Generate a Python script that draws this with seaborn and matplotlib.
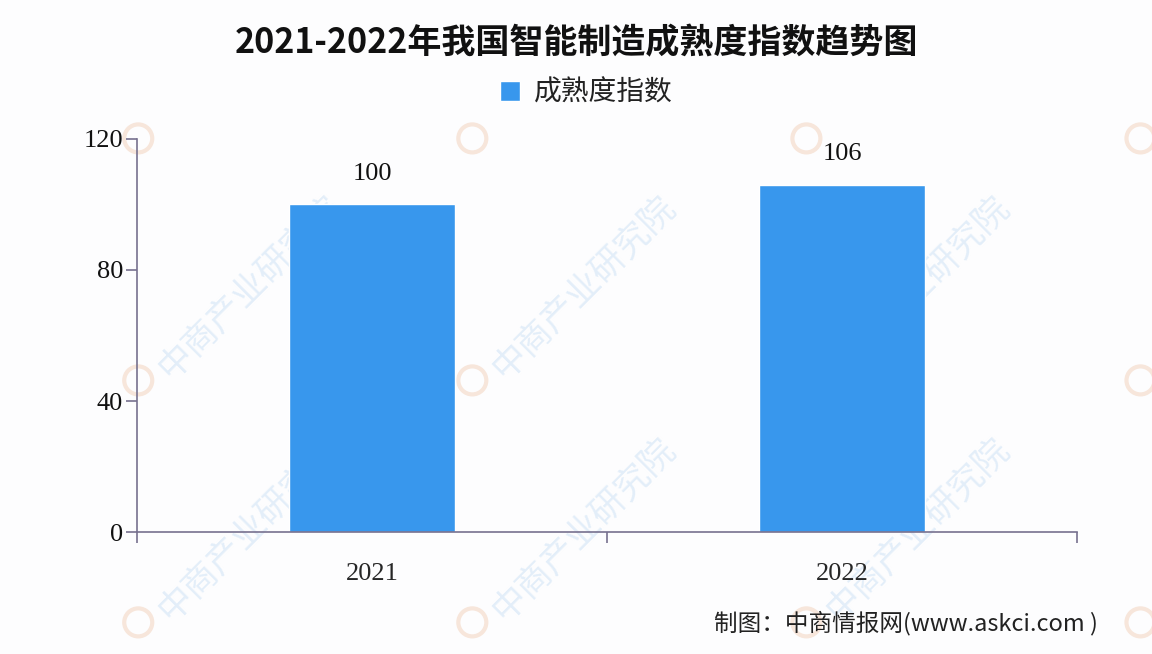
import matplotlib
matplotlib.use('Agg')

import pandas as pd
import matplotlib.pyplot as plt
import seaborn as sns

# === Data ===
years = ["2021", "2022"]
index_values = [100, 106]
series_name = "成熟度指数"
y_ticks = [0, 40, 80, 120]

df = pd.DataFrame({"year": years, "value": index_values})

sns.set_theme(style="white")
plt.rcParams['font.family'] = ['Noto Sans CJK SC', 'DejaVu Sans']

bar_color = '#3897ED'
axis_color = '#77718F'

fig = plt.figure(figsize=(11.52, 6.54), dpi=100)
fig.patch.set_facecolor('#FDFDFE')
ax = fig.add_axes([0.1189, 0.1865, 0.816, 0.601])
ax.set_facecolor('none')
ax.set_zorder(2)

# === Watermarks (faint, behind the chart) ===
for wx in [0.12, 0.41, 0.70, 0.99]:
    for wy in [0.77, 0.40, 0.03]:
        if wy < 0.5 and wx < 0.9:
            fig.text(wx + 0.012, wy + 0.01, "中商产业研究院", rotation=45, fontsize=25,
                     color='#E3EEF9', ha='left', va='bottom', zorder=-2)
        fig.patches.append(plt.Circle((wx * 1152, wy * 654 + 12), 14,
                                      transform=None, facecolor='none',
                                      edgecolor='#F7E6DB', lw=3, zorder=-2))

sns.barplot(data=df, x="year", y="value", color=bar_color, saturation=1,
            width=0.353, ax=ax, label=series_name, zorder=2)

ax.set_xlim(-0.5, 1.5)
ax.set_ylim(0, 120)
ax.set_yticks(y_ticks)
ax.set_yticklabels([str(t) for t in y_ticks], family='Liberation Serif', fontsize=19)

# category boundaries as major ticks, labels on minor ticks
ax.set_xticks([-0.5, 0.5, 1.5])
ax.set_xticklabels([])
ax.set_xticks([0, 1], minor=True)
ax.set_xticklabels(years, minor=True, family='Liberation Serif', fontsize=19)
ax.tick_params(axis='x', which='major', direction='out', length=8, width=1.2,
               color=axis_color, bottom=True)
ax.tick_params(axis='x', which='minor', length=0, pad=22, bottom=True)
ax.tick_params(axis='y', direction='out', length=8, width=1.2, color=axis_color,
               left=True, pad=2, labelcolor='#111111')
ax.tick_params(axis='x', labelcolor='#111111')

ax.set_xlabel("")
ax.set_ylabel("")
for s in ['top', 'right']:
    ax.spines[s].set_visible(False)
for s in ['left', 'bottom']:
    ax.spines[s].set_color(axis_color)
    ax.spines[s].set_linewidth(1.2)

# data labels
for i, v in enumerate(index_values):
    ax.annotate(str(v), (i, v), xytext=(0, 14), textcoords='offset points',
                ha='center', va='bottom', family='Liberation Serif', fontsize=19,
                color='#111111')

# legend
leg = ax.legend(loc='center', bbox_to_anchor=(0.478, 1.117), frameon=False,
                fontsize=20, handlelength=0.75, handleheight=0.75, handletextpad=0.5)
for t in leg.get_texts():
    t.set_color('#222222')

fig.text(0.5, 0.935, "2021-2022年我国智能制造成熟度指数趋势图", ha='center', va='center',
         fontsize=24.5, fontweight='bold', color='#111111')

fig.text(0.953, 0.047, "制图：中商情报网(www.askci.com )", ha='right', va='center',
         fontsize=17, color='#222222')

fig.savefig("out.png", dpi=100, facecolor=fig.get_facecolor())
plt.close()
